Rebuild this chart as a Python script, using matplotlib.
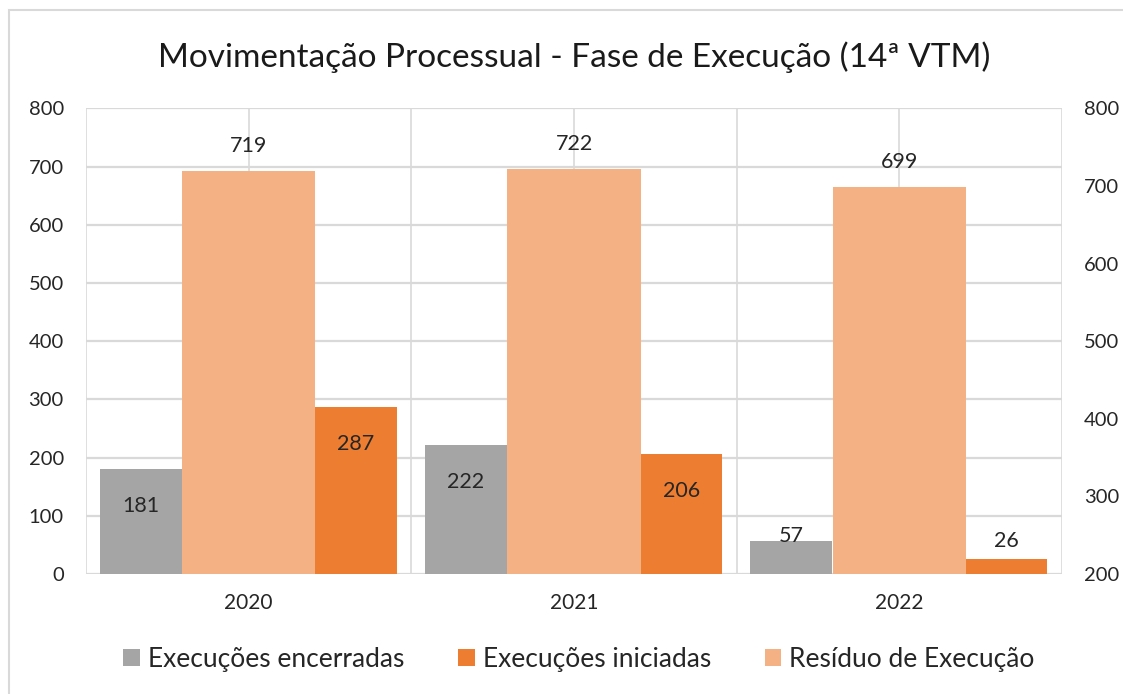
import numpy as np
import matplotlib
matplotlib.use("Agg")
import matplotlib.pyplot as plt
from matplotlib.patches import Rectangle

# data
anos = ["2020", "2021", "2022"]
encerradas = [181, 222, 57]
iniciadas = [287, 206, 26]
residuo = [719, 722, 699]

cor_cinza = "#A5A5A5"
cor_laranja = "#ED7D31"
cor_claro = "#F4B183"
cor_grade = "#D9D9D9"
cor_texto = "#262626"

plt.rcParams["font.family"] = ["Lato", "DejaVu Sans"]

fig = plt.figure(figsize=(11.23, 6.94), dpi=100)
ax = fig.add_axes([0.0766, 0.1729, 0.8691, 0.6708])
ax2 = ax.twinx()

x = np.arange(len(anos))
b1 = ax.bar(x - 0.332, encerradas, width=0.252, color=cor_cinza, zorder=3,
            label="Execuções encerradas")
b2 = ax.bar(x + 0.33, iniciadas, width=0.25, color=cor_laranja, zorder=3,
            label="Execuções iniciadas")
b3 = ax2.bar(x, residuo, width=0.41, color=cor_claro, zorder=3,
             label="Resíduo de Execução")

ax.set_xlim(-0.5, len(anos) - 0.5)
ax.set_ylim(0, 800)
ax.set_yticks(range(0, 801, 100))
ax2.set_ylim(200, 800)
ax2.set_yticks(range(200, 801, 100))

ax.set_xticks(x)
ax.set_xticklabels(anos)
ax.set_xticks(np.arange(-0.5, len(anos), 1.0), minor=True)
ax.grid(True, which="both", axis="x", color=cor_grade, lw=1.2, zorder=0)
ax.grid(True, which="major", axis="y", color=cor_grade, lw=1.6, zorder=0)
ax.set_axisbelow(True)

for a in (ax, ax2):
    for s in a.spines.values():
        s.set_visible(False)
    a.tick_params(length=0, which="both", colors=cor_texto, labelsize=14.5)
ax.tick_params(axis="y", pad=16)
ax2.tick_params(axis="y", pad=16)
ax.tick_params(axis="x", pad=14, labelsize=15)

# data labels
grandes = [v if v > 100 else "" for v in encerradas]
pequenos = [v if v <= 100 else "" for v in encerradas]
ax.bar_label(b1, labels=grandes, padding=-34, fontsize=15.5, color=cor_texto)
ax.bar_label(b1, labels=pequenos, padding=-4, fontsize=15.5, color=cor_texto)
grandes = [v if v > 100 else "" for v in iniciadas]
pequenos = [v if v <= 100 else "" for v in iniciadas]
ax.bar_label(b2, labels=grandes, padding=-34, fontsize=15.5, color=cor_texto)
ax.bar_label(b2, labels=pequenos, padding=6, fontsize=15.5, color=cor_texto)
ax2.bar_label(b3, padding=11, fontsize=15.5, color=cor_texto)

fig.text(574 / 1123, 0.918, "Movimentação Processual - Fase de Execução (14ª VTM)",
         ha="center", va="center", fontsize=24, color="#1a1a1a")

fig.legend(handles=[b1, b2, b3], loc="center", bbox_to_anchor=(579 / 1123, 0.0504),
           ncol=3, frameon=False, fontsize=19, handlelength=0.62, handleheight=0.62,
           handletextpad=0.3, columnspacing=2.05, labelcolor=cor_texto)

# chart border
fig.patches.append(Rectangle((9 / 1123, -0.1), 1.2, 1 - 10 / 694 + 0.1,
                             transform=fig.transFigure, fill=False,
                             edgecolor=cor_grade, lw=1.5))

fig.savefig("out.png", dpi=100)
